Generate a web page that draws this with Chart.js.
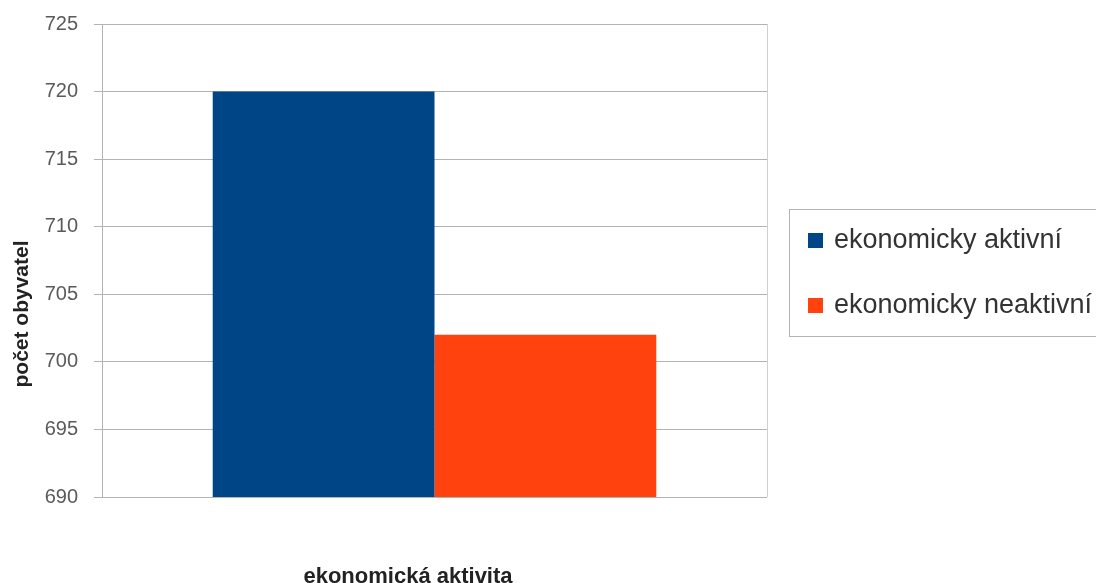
<!DOCTYPE html>
<html>
<head>
<meta charset="utf-8">
<script src="https://cdn.jsdelivr.net/npm/chart.js@4/dist/chart.umd.min.js"></script>
<style>
  body { margin: 0; background: #fff; }
  canvas { display: block; }
</style>
</head>
<body>
<canvas id="barChart" width="1096" height="583"></canvas>
<script>
const CATEGORIES = [""];
const SERIES_NAMES = ["ekonomicky aktivní", "ekonomicky neaktivní"];
const AKTIVNI = [720];
const NEAKTIVNI = [702];
const COLORS = ["#004586", "#ff420e"];
const Y_MIN = 690;
const Y_MAX = 725;
const Y_STEP = 5;

const GRID = "#b3b3b3";
const FONT = "'Liberation Sans', Arial, sans-serif";

// titles, legend box and right plot border
const extras = {
    id: "extras",
    afterDraw(chart) {
        const ctx = chart.ctx;
        const area = chart.chartArea;
        ctx.save();

        ctx.strokeStyle = "#d0d0d0";
        ctx.lineWidth = 1;
        ctx.beginPath();
        ctx.moveTo(Math.round(area.right) + 0.5, area.top);
        ctx.lineTo(Math.round(area.right) + 0.5, area.bottom);
        ctx.stroke();

        ctx.fillStyle = "#222";
        ctx.font = "bold 21px " + FONT;
        ctx.textAlign = "center";
        ctx.textBaseline = "middle";
        ctx.save();
        ctx.translate(22, 314);
        ctx.rotate(-Math.PI / 2);
        ctx.fillText("počet obyvatel", 0, 0);
        ctx.restore();

        ctx.font = "bold 22px " + FONT;
        ctx.fillText("ekonomická aktivita", 408, 577);

        // legend
        ctx.strokeStyle = GRID;
        ctx.strokeRect(789.5, 209.5, 400, 127);
        ctx.font = "27px " + FONT;
        ctx.textAlign = "left";
        chart.data.datasets.forEach((ds, i) => {
            const cy = 240 + i * 65;
            ctx.fillStyle = ds.backgroundColor;
            ctx.fillRect(808, cy - 7, 15, 15);
            ctx.fillStyle = "#333";
            ctx.fillText(ds.label, 834, cy + 1);
        });
        ctx.restore();
    }
};

const context = document.getElementById("barChart").getContext("2d");
const myChart = new Chart(context, {
    type: "bar",
    data: {
        labels: CATEGORIES,
        datasets: [
            { label: SERIES_NAMES[0], data: AKTIVNI, backgroundColor: COLORS[0] },
            { label: SERIES_NAMES[1], data: NEAKTIVNI, backgroundColor: COLORS[1] },
        ],
    },
    options: {
        responsive: false,
        animation: false,
        layout: { padding: { top: 24, right: 329, left: 0, bottom: 0 } },
        datasets: { bar: { categoryPercentage: 0.667, barPercentage: 1 } },
        plugins: {
            legend: { display: false },
            tooltip: { enabled: false },
        },
        scales: {
            x: {
                grid: { display: false },
                border: { display: false },
                ticks: { display: false },
                afterFit: scale => { scale.height = 86; },
            },
            y: {
                min: Y_MIN,
                max: Y_MAX,
                ticks: {
                    stepSize: Y_STEP,
                    padding: 16,
                    color: "#5a5a5a",
                    font: { family: FONT, size: 20 },
                },
                grid: { color: GRID, tickLength: 8 },
                border: { color: GRID },
                afterFit: scale => {
                    scale.width = 102;
                    scale.paddingTop = 0;
                    scale.paddingBottom = 0;
                },
            },
        },
    },
    plugins: [extras],
});
</script>
</body>
</html>
